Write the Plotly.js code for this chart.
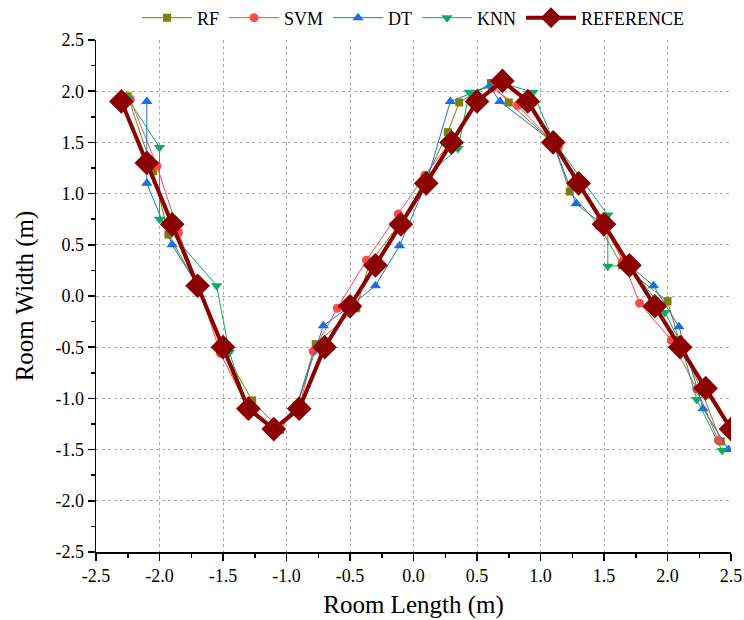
<!DOCTYPE html>
<html>
<head>
<meta charset="utf-8">
<script src="https://cdn.plot.ly/plotly-3.0.1.min.js"></script>
<style>html,body{margin:0;padding:0;background:#fff;}#chart{width:744px;height:620px;}</style>
</head>
<body>
<div id="chart"></div>
<script>
// ---- data ----
const refX = [-2.3,-2.1,-1.9,-1.7,-1.5,-1.3,-1.1,-0.9,-0.7,-0.5,-0.3,-0.1,0.1,0.3,0.5,0.7,0.9,1.1,1.3,1.5,1.7,1.9,2.1,2.3,2.5];
const refY = [1.9,1.3,0.7,0.1,-0.5,-1.1,-1.3,-1.1,-0.5,-0.1,0.3,0.7,1.1,1.5,1.9,2.1,1.9,1.5,1.1,0.7,0.3,-0.1,-0.5,-0.9,-1.3];

const rfX = [-2.25,-2.05,-1.93,-1.7,-1.5,-1.27,-1.05,-0.92,-0.77,-0.45,-0.35,-0.1,0.1,0.27,0.36,0.61,0.75,1.1,1.23,1.46,1.64,2.0,2.09,2.27,2.42];
const rfY = [1.95,1.22,0.6,0.1,-0.52,-1.02,-1.31,-1.07,-0.47,-0.12,0.31,0.72,1.15,1.6,1.89,2.08,1.89,1.5,1.02,0.69,0.3,-0.05,-0.43,-0.93,-1.42];

const svmX = [-2.23,-2.02,-1.85,-1.7,-1.52,-1.3,-1.1,-0.9,-0.79,-0.6,-0.37,-0.12,0.09,0.3,0.5,0.62,0.82,1.14,1.3,1.47,1.65,1.78,2.03,2.23,2.4];
const svmY = [1.92,1.27,0.62,0.12,-0.56,-1.1,-1.28,-1.1,-0.54,-0.12,0.35,0.8,1.18,1.52,1.9,2.03,1.86,1.45,1.1,0.76,0.34,-0.07,-0.43,-0.91,-1.41];

const dtX = [-2.1,-2.1,-1.9,-1.7,-1.5,-1.3,-1.1,-0.92,-0.71,-0.5,-0.3,-0.11,0.1,0.29,0.6,0.68,1.1,1.28,1.49,1.7,1.89,2.09,2.28,2.48];
const dtY = [1.9,1.1,0.5,0.1,-0.5,-1.1,-1.3,-1.08,-0.29,-0.1,0.1,0.49,1.1,1.9,2.05,1.9,1.5,0.9,0.7,0.3,0.1,-0.3,-1.1,-1.5];

const knnX = [-2.25,-2.0,-2.0,-1.55,-1.45,-1.3,-1.1,-0.9,-0.7,-0.5,-0.3,-0.1,0.12,0.35,0.44,0.7,0.94,1.1,1.53,1.53,1.7,1.98,2.1,2.23,2.43];
const knnY = [1.93,1.45,0.75,0.1,-0.55,-1.1,-1.28,-1.1,-0.5,-0.1,0.3,0.7,1.19,1.44,1.99,2.08,1.99,1.52,0.79,0.29,0.3,-0.16,-0.45,-1.01,-1.51];

const tickVals = [-2.5,-2.0,-1.5,-1.0,-0.5,0.0,0.5,1.0,1.5,2.0,2.5];
const tickText = ["-2.5","-2.0","-1.5","-1.0","-0.5","0.0","0.5","1.0","1.5","2.0","2.5"];

const FONT = "Liberation Serif, serif";

function series(name, x, y, color, symbol, msize, lw) {
  return {
    type: 'scatter', mode: 'lines+markers', name: name, x: x, y: y,
    line: {color: color, width: lw},
    marker: {color: color, symbol: symbol, size: msize, line: {width: 0}}
  };
}

const traces = [
  series('RF', rfX, rfY, '#808000', 'square', 8, 1),
  series('SVM', svmX, svmY, '#FF4848', 'circle', 9, 1),
  series('DT', dtX, dtY, '#1A70DC', 'triangle-up', 10, 1),
  series('KNN', knnX, knnY, '#12A865', 'triangle-down', 10, 1),
  series('REFERENCE', refX, refY, '#8B0000', 'diamond', 19, 4)
];

const axisCommon = {
  range: [-2.5, 2.5],
  tickmode: 'array', tickvals: tickVals, ticktext: tickText,
  ticks: 'outside', ticklen: 7, tickwidth: 1.5, tickcolor: '#000',
  showline: true, linecolor: '#000', linewidth: 1.5,
  showgrid: true, gridcolor: '#b0b0b0', gridwidth: 1, griddash: 'dot',
  zeroline: false,
  tickfont: {family: FONT, size: 18, color: '#000'},
  minor: {tickmode: 'linear', dtick: 0.25, tick0: 0, ticks: 'outside', ticklen: 4, tickwidth: 1.5, tickcolor: '#000', showgrid: false}
};

const layout = {
  width: 744, height: 620,
  margin: {l: 96, r: 13, t: 40, b: 68, autoexpand: false},
  paper_bgcolor: '#fff', plot_bgcolor: '#fff',
  font: {family: FONT, color: '#000'},
  showlegend: true,
  legend: {orientation: 'h', x: 0.5, xanchor: 'center', y: 1.043, yanchor: 'middle',
           font: {family: FONT, size: 18, color: '#000'}, itemwidth: 50, tracegroupgap: 0},
  xaxis: Object.assign({}, axisCommon, {
    title: {text: 'Room Length (m)', font: {family: FONT, size: 25, color: '#000'}, standoff: 10}
  }),
  yaxis: Object.assign({}, axisCommon, {
    title: {text: 'Room Width (m)', font: {family: FONT, size: 25, color: '#000'}, standoff: 14}
  })
};

Plotly.newPlot('chart', traces, layout, {displayModeBar: false, staticPlot: true});
</script>
</body>
</html>
